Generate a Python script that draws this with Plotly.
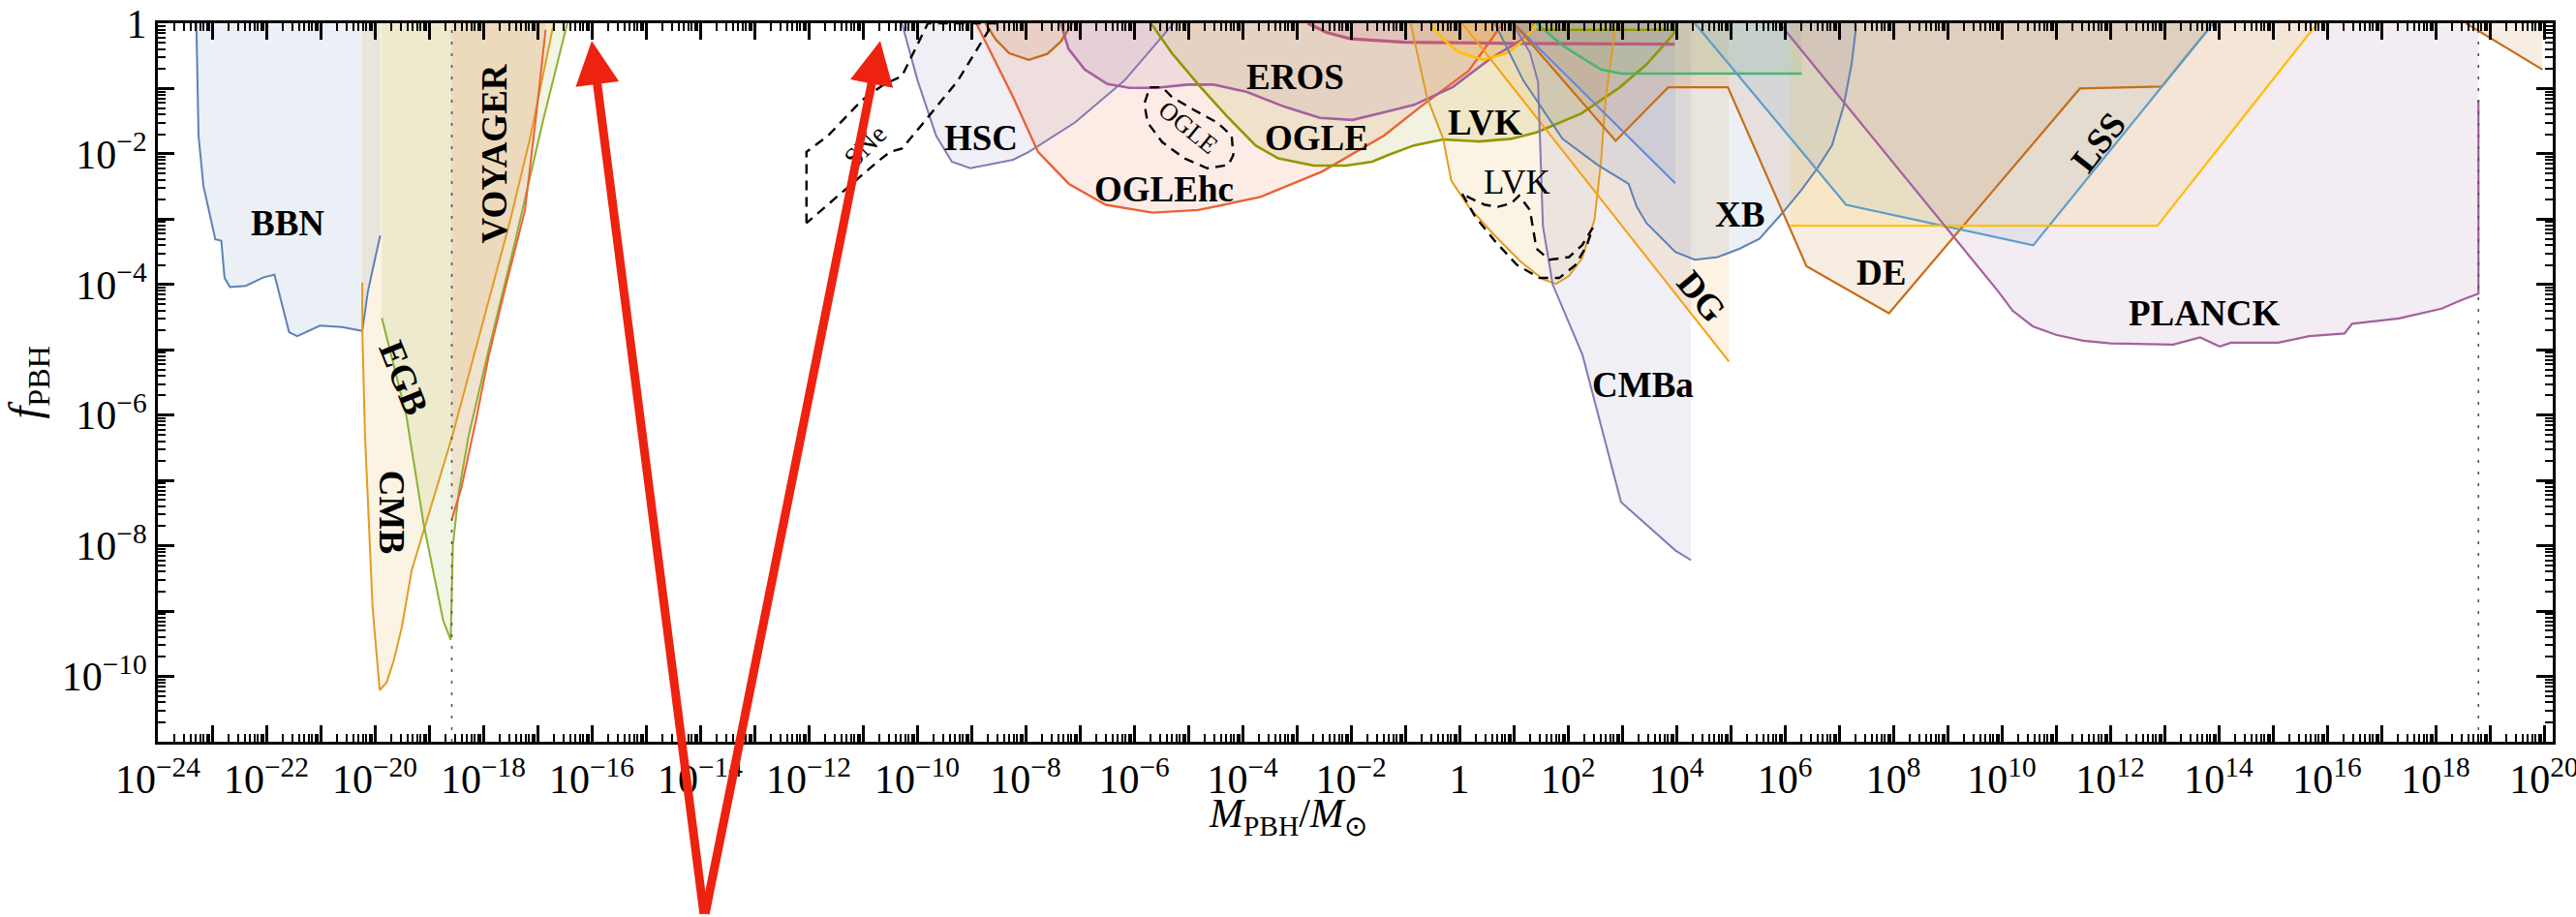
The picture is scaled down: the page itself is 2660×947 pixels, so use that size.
import plotly.graph_objects as go

# ---------------- data (log10 of M/Msun and log10 of f_PBH) ----------------
BBN_logM = [-23.29, -23.25, -23.16, -22.94, -22.83, -22.77, -22.67, -22.38, -22.05, -21.85, -21.58, -21.43, -21.01, -20.60, -20.23, -20.13, -20.02, -19.90]
BBN_logf = [0.0, -1.72, -2.49, -3.31, -3.33, -3.90, -4.04, -4.02, -3.89, -3.85, -4.73, -4.79, -4.63, -4.65, -4.71, -4.12, -3.70, -3.25]

CMB_logM = [-20.23, -20.23, -20.18, -20.07, -20.04, -19.91, -19.78, -19.64, -19.50, -19.32, -19.05, -18.57, -17.50, -17.14, -16.70]
CMB_logf = [-3.97, -4.71, -6.32, -8.29, -8.95, -10.21, -10.09, -9.73, -9.24, -8.38, -7.63, -6.32, -3.01, -1.77, 0.0]

EGB_logM = [-19.87, -19.42, -19.10, -18.74, -18.60, -18.56, -18.45, -18.27, -17.90, -17.40, -16.90, -16.45]
EGB_logf = [-4.51, -6.00, -7.66, -9.14, -9.44, -8.00, -7.17, -6.32, -5.00, -3.30, -1.50, 0.0]

VOY_logM = [-18.58, -18.40, -18.14, -17.90, -17.62, -17.23, -17.02, -16.85]
VOY_logf = [-7.60, -7.10, -6.10, -5.10, -4.14, -2.86, -1.38, -0.10]

SNE_logM = [-12.04, -12.04, -11.64, -11.02, -10.62, -10.28, -9.80, -8.55, -8.63, -9.25, -9.88, -10.28, -10.50, -10.73, -12.04]
SNE_logf = [-3.06, -1.97, -1.72, -1.18, -0.94, -0.81, 0.0, 0.0, -0.04, -0.88, -1.52, -1.92, -1.97, -2.12, -3.06]

HSC_logM = [-10.28, -9.99, -9.65, -9.36, -9.02, -8.23, -7.94, -7.09, -6.18, -5.27]
HSC_logf = [0.0, -0.88, -1.72, -2.12, -2.22, -2.09, -1.97, -1.52, -0.88, 0.0]

UB_logM = [-8.74, -8.55, -8.30, -7.94, -7.60, -7.35, -7.14]
UB_logf = [0.0, -0.25, -0.46, -0.56, -0.47, -0.28, 0.0]

OGLEHC_logM = [-8.91, -8.23, -7.77, -7.20, -6.52, -5.66, -4.81, -3.67, -2.53, -1.39, -0.72, 0.17, 0.80]
OGLEHC_logf = [0.0, -1.13, -1.97, -2.46, -2.78, -2.90, -2.86, -2.66, -2.27, -1.72, -1.28, -0.73, 0.0]

EROS_logM = [-7.35, -7.21, -6.91, -6.49, -6.08, -5.60, -5.01, -4.53, -3.93, -3.22, -2.57, -1.97, -1.32, -0.84, -0.13, 0.59, 1.24, 1.40]
EROS_logf = [0.0, -0.39, -0.71, -0.93, -0.99, -0.99, -0.94, -0.94, -1.05, -1.28, -1.45, -1.48, -1.35, -1.25, -0.98, -0.53, -0.21, 0.0]

OGLE_logM = [-5.69, -5.30, -4.77, -4.29, -3.76, -3.34, -2.69, -2.09, -1.61, -1.32, -0.84, -0.30, 0.35, 0.95, 1.42, 2.25, 2.96, 3.45, 3.92, 4.00]
OGLE_logf = [0.0, -0.46, -0.98, -1.42, -1.87, -2.07, -2.18, -2.18, -2.12, -2.02, -1.87, -1.78, -1.81, -1.77, -1.67, -1.38, -0.98, -0.63, -0.19, -0.10]
OGLETOP_logM = [1.42, 3.97]
OGLETOP_logf = [-0.10, -0.10]

OGLED_logM = [-5.71, -5.48, -5.30, -4.89, -4.47, -4.20, -4.17, -4.26, -4.65, -5.07, -5.48, -5.75, -5.81, -5.71]
OGLED_logf = [-0.98, -0.98, -1.13, -1.33, -1.52, -1.72, -2.02, -2.17, -2.22, -2.07, -1.82, -1.52, -1.23, -0.98]

PK_logM = [-2.80, -2.45, -2.00, -1.00, 1.00, 3.97]
PK_logf = [0.0, -0.14, -0.24, -0.29, -0.31, -0.32]

YU_logM = [-0.55, -0.30, 0.00, 0.45, 0.90, 1.20, 1.42]
YU_logf = [0.0, -0.25, -0.45, -0.56, -0.45, -0.25, 0.0]

LVK_logM = [-0.90, -0.60, -0.30, -0.15, 0.17, 0.65, 1.13, 1.54, 1.78, 2.02, 2.26, 2.49, 2.61, 2.70, 2.82, 2.89]
LVK_logf = [0.0, -1.13, -1.77, -2.41, -2.81, -3.25, -3.65, -3.92, -3.99, -3.87, -3.60, -3.01, -2.12, -1.13, -0.39, 0.0]

LVKD_logM = [0.05, 0.29, 0.65, 1.06, 1.48, 1.84, 2.14, 2.35, 2.46, 2.26, 2.02, 1.66, 1.42, 1.35, 1.30, 1.10, 0.95, 0.71, 0.47, 0.23, 0.05]
LVKD_logf = [-2.61, -2.96, -3.33, -3.70, -3.90, -3.90, -3.70, -3.40, -3.13, -3.40, -3.58, -3.62, -3.45, -3.11, -2.86, -2.64, -2.76, -2.81, -2.78, -2.69, -2.61]

DG_logM = [0.05, 4.97]
DG_logf = [0.0, -5.18]

CMBA_logM = [0.98, 1.30, 1.45, 1.48, 1.54, 1.72, 2.14, 2.27, 2.98, 3.54, 3.98, 4.27]
CMBA_logf = [0.0, -0.45, -0.90, -1.62, -3.11, -4.00, -4.84, -5.08, -7.33, -7.75, -8.07, -8.22]

XB_logM = [0.65, 1.18, 1.90, 2.55, 3.12, 3.27, 3.45, 3.98, 4.34, 4.76, 5.17, 5.53, 5.95, 6.30, 6.60, 6.87, 7.08, 7.23, 7.31]
XB_logf = [0.0, -0.88, -1.77, -2.17, -2.46, -2.81, -3.06, -3.50, -3.62, -3.58, -3.45, -3.30, -2.91, -2.56, -2.22, -1.87, -1.28, -0.63, -0.09]

BL2_logM = [1.00, 3.98]
BL2_logf = [0.0, -2.45]

GR_logM = [1.42, 1.90, 2.26, 2.61, 2.98, 6.31]
GR_logf = [0.0, -0.34, -0.53, -0.71, -0.77, -0.77]

DE_logM = [1.00, 2.88, 3.85, 4.95, 6.40, 7.92, 11.44, 12.95, 13.90]
DE_logf = [0.0, -1.80, -0.98, -0.98, -3.72, -4.44, -1.00, -0.97, 0.0]

LSS_logM = [4.34, 7.13, 10.58, 13.90]
LSS_logf = [0.0, -2.78, -3.40, 0.0]

YB_logM = [6.10, 6.10, 12.87, 15.82]
YB_logf = [0.0, -3.10, -3.10, 0.0]

PLANCK_logM = [5.90, 9.60, 9.93, 10.20, 10.57, 11.00, 11.50, 12.01, 13.16, 13.66, 14.02, 14.23, 15.10, 15.67, 16.32, 16.46, 17.32, 18.11, 18.47, 18.79, 18.79]
PLANCK_logf = [0.0, -3.75, -4.10, -4.40, -4.64, -4.77, -4.86, -4.90, -4.92, -4.81, -4.95, -4.89, -4.89, -4.79, -4.75, -4.60, -4.52, -4.37, -4.24, -4.14, -1.18]

RO_logM = [18.56, 19.97]
RO_logf = [0.0, -0.71]

DOTTED_logM = [-18.58, 18.79]

ARROW_TARGET_logM = [-16.0, -10.68]

# ---------------- styling ----------------
C = dict(blue="#5E81B5", orange="#E19C24", green="#8FB032", red="#EB6235", purple="#8778B3",
         dkorange="#C56E1A", ltblue="#5D9EC7", yellow="#FFBF00", magenta="#A5609D", olive="#929600",
         blue2="#6685D9", orange2="#F89F13", pink="#BC5B80", green2="#47B66D")
FILL_ALPHA = 0.12
FONT = "Liberation Serif"


def rgba(h, a):
    h = h.lstrip("#")
    return "rgba(%d,%d,%d,%.3f)" % (int(h[0:2], 16), int(h[2:4], 16), int(h[4:6], 16), a)


def pw(v):
    return [10.0 ** t for t in v]


fig = go.Figure()

# regions: (logM, logf, color, line start index, line width)
regions = [
    (BBN_logM, BBN_logf, C["blue"], 0, 2.0),
    (CMB_logM, CMB_logf, C["orange"], 0, 2.0),
    (EGB_logM, EGB_logf, C["green"], 0, 2.0),
    (VOY_logM, VOY_logf, C["red"], 0, 2.0),
    (HSC_logM, HSC_logf, C["purple"], 0, 2.0),
    (UB_logM, UB_logf, C["dkorange"], 0, 2.4),
    (OGLEHC_logM, OGLEHC_logf, C["red"], 0, 2.4),
    (EROS_logM, EROS_logf, C["magenta"], 0, 2.6),
    (OGLE_logM, OGLE_logf, C["olive"], 0, 2.6),
    (PK_logM, PK_logf, C["pink"], 0, 3.2),
    (YU_logM, YU_logf, C["yellow"], 0, 2.6),
    (LVK_logM, LVK_logf, C["orange"], 0, 2.0),
    (DG_logM, DG_logf, C["orange2"], 0, 2.0),
    (CMBA_logM, CMBA_logf, C["purple"], 0, 2.0),
    (XB_logM, XB_logf, C["blue"], 0, 2.0),
    (BL2_logM, BL2_logf, C["blue2"], 0, 2.0),
    (GR_logM, GR_logf, C["green2"], 0, 2.6),
    (DE_logM, DE_logf, C["dkorange"], 0, 2.2),
    (LSS_logM, LSS_logf, C["ltblue"], 0, 2.2),
    (YB_logM, YB_logf, C["yellow"], 1, 2.2),
    (PLANCK_logM, PLANCK_logf, C["magenta"], 0, 2.2),
    (RO_logM, RO_logf, C["dkorange"], 0, 2.2),
]

for lm, lf, col, s, w in regions:
    xs, ys = pw(lm), pw(lf)
    fig.add_trace(go.Scatter(x=xs + [xs[-1], xs[0]], y=ys + [1.0, 1.0], mode="lines",
                             fill="toself", fillcolor=rgba(col, FILL_ALPHA),
                             line=dict(width=0), hoverinfo="skip", showlegend=False))
for lm, lf, col, s, w in regions:
    fig.add_trace(go.Scatter(x=pw(lm[s:]), y=pw(lf[s:]), mode="lines",
                             line=dict(color=col, width=w), hoverinfo="skip", showlegend=False))

fig.add_trace(go.Scatter(x=pw(OGLETOP_logM), y=pw(OGLETOP_logf), mode="lines",
                         line=dict(color=C["olive"], width=2.6), showlegend=False, hoverinfo="skip"))

for lm, lf in [(SNE_logM, SNE_logf), (OGLED_logM, OGLED_logf), (LVKD_logM, LVKD_logf)]:
    fig.add_trace(go.Scatter(x=pw(lm), y=pw(lf), mode="lines",
                             line=dict(color="black", width=2.4, dash="10px,7px"),
                             showlegend=False, hoverinfo="skip"))

for m in DOTTED_logM:
    fig.add_trace(go.Scatter(x=[10 ** m, 10 ** m], y=[1e-11, 1.0], mode="lines",
                             line=dict(color="#555555", width=1.6, dash="3px,9px"),
                             showlegend=False, hoverinfo="skip"))

# ---------------- labels ----------------
BOLD_SIZE = 37
labels = [
    ("BBN", -21.61, -3.06, 0, True, BOLD_SIZE),
    ("VOYAGER", -17.80, -1.99, -90, True, BOLD_SIZE),
    ("EGB", -19.46, -5.43, 68, True, BOLD_SIZE),
    ("CMB", -19.69, -7.49, 90, True, BOLD_SIZE),
    ("SNe", -10.96, -1.87, -45, False, 28),
    ("HSC", -8.82, -1.75, 0, True, BOLD_SIZE),
    ("EROS", -3.02, -0.83, 0, True, BOLD_SIZE),
    ("OGLE", -2.63, -1.75, 0, True, BOLD_SIZE),
    ("OGLE", -5.01, -1.60, 39, False, 26),
    ("OGLEhc", -5.44, -2.54, 0, True, BOLD_SIZE),
    ("LVK", 0.47, -1.52, 0, True, BOLD_SIZE),
    ("LVK", 1.06, -2.44, 0, False, 35),
    ("CMBa", 3.38, -5.53, 0, True, BOLD_SIZE),
    ("DG", 4.47, -4.19, 50, True, BOLD_SIZE),
    ("XB", 5.17, -2.93, 0, True, BOLD_SIZE),
    ("DE", 7.78, -3.82, 0, True, BOLD_SIZE),
    ("LSS", 11.79, -1.82, -52, True, BOLD_SIZE),
    ("PLANCK", 13.73, -4.44, 0, True, BOLD_SIZE),
]
annotations = []
for t, xm, yf, ang, bold, sz in labels:
    annotations.append(dict(x=xm, y=yf, xref="x", yref="y", text=("<b>%s</b>" % t) if bold else t,
                            showarrow=False, textangle=ang, xanchor="center", yanchor="middle",
                            font=dict(family=FONT, size=sz, color="black")))

# red arrows (tips at the target masses, common tail below the axis)
for xm, ax in zip(ARROW_TARGET_logM, [116, -181]):
    annotations.append(dict(x=xm, y=-0.27, xref="x", yref="y", text="", showarrow=True,
                            arrowhead=2, arrowsize=1.0, arrowwidth=9, arrowcolor="#EE2210",
                            ax=ax, ay=903, axref="pixel", ayref="pixel", standoff=0))

annotations.append(dict(x=0.472, y=-0.104, xref="paper", yref="paper",
                        text="<i>M</i><sub>PBH</sub>/<i>M</i><sub>⊙</sub>", showarrow=False,
                        xanchor="center", yanchor="middle", font=dict(family=FONT, size=42, color="black")))
annotations.append(dict(x=-0.054, y=0.5, xref="paper", yref="paper",
                        text="<i>f</i><sub>PBH</sub>", showarrow=False, textangle=-90,
                        xanchor="center", yanchor="middle", font=dict(family=FONT, size=46, color="black")))

# ---------------- axes ----------------
def sup(k):
    if k == 0:
        return "1"
    return "10<sup>%s</sup>" % (("−%d" % -k) if k < 0 else "%d" % k)

xk = list(range(-24, 21))
yk = list(range(-11, 1))
x_tickvals = [10.0 ** k for k in xk]
x_ticktext = [sup(k) if k % 2 == 0 else " " for k in xk]
y_tickvals = [10.0 ** k for k in yk]
y_ticktext = [sup(k) if k % 2 == 0 else " " for k in yk]
x_minor = [m * 10.0 ** k for k in range(-24, 21) for m in range(2, 10)]
y_minor = [m * 10.0 ** k for k in range(-11, 0) for m in range(2, 10)]

axis_common = dict(type="log", showgrid=False, zeroline=False, showline=True, linecolor="black",
                   linewidth=3, mirror="allticks", ticks="inside", ticklen=17, tickwidth=2.5,
                   tickcolor="black", automargin=False, ticklabeloverflow="allow",
                   tickfont=dict(family=FONT, size=42, color="black"))

fig.update_layout(
    width=2660, height=947,
    margin=dict(l=163, r=24, t=24, b=181),
    paper_bgcolor="white", plot_bgcolor="white",
    showlegend=False,
    xaxis=dict(range=[-24, 20.16], tickmode="array", tickvals=x_tickvals, ticktext=x_ticktext,
               minor=dict(tickmode="array", tickvals=x_minor, ticks="inside", ticklen=8, tickwidth=1.5,
                          tickcolor="black", showgrid=False),
               **axis_common),
    yaxis=dict(range=[-11, 0], tickmode="array", tickvals=y_tickvals, ticktext=y_ticktext,
               minor=dict(tickmode="array", tickvals=y_minor, ticks="inside", ticklen=8, tickwidth=1.5,
                          tickcolor="black", showgrid=False),
               **axis_common),
    annotations=annotations,
)

fig.write_html("out.html")
